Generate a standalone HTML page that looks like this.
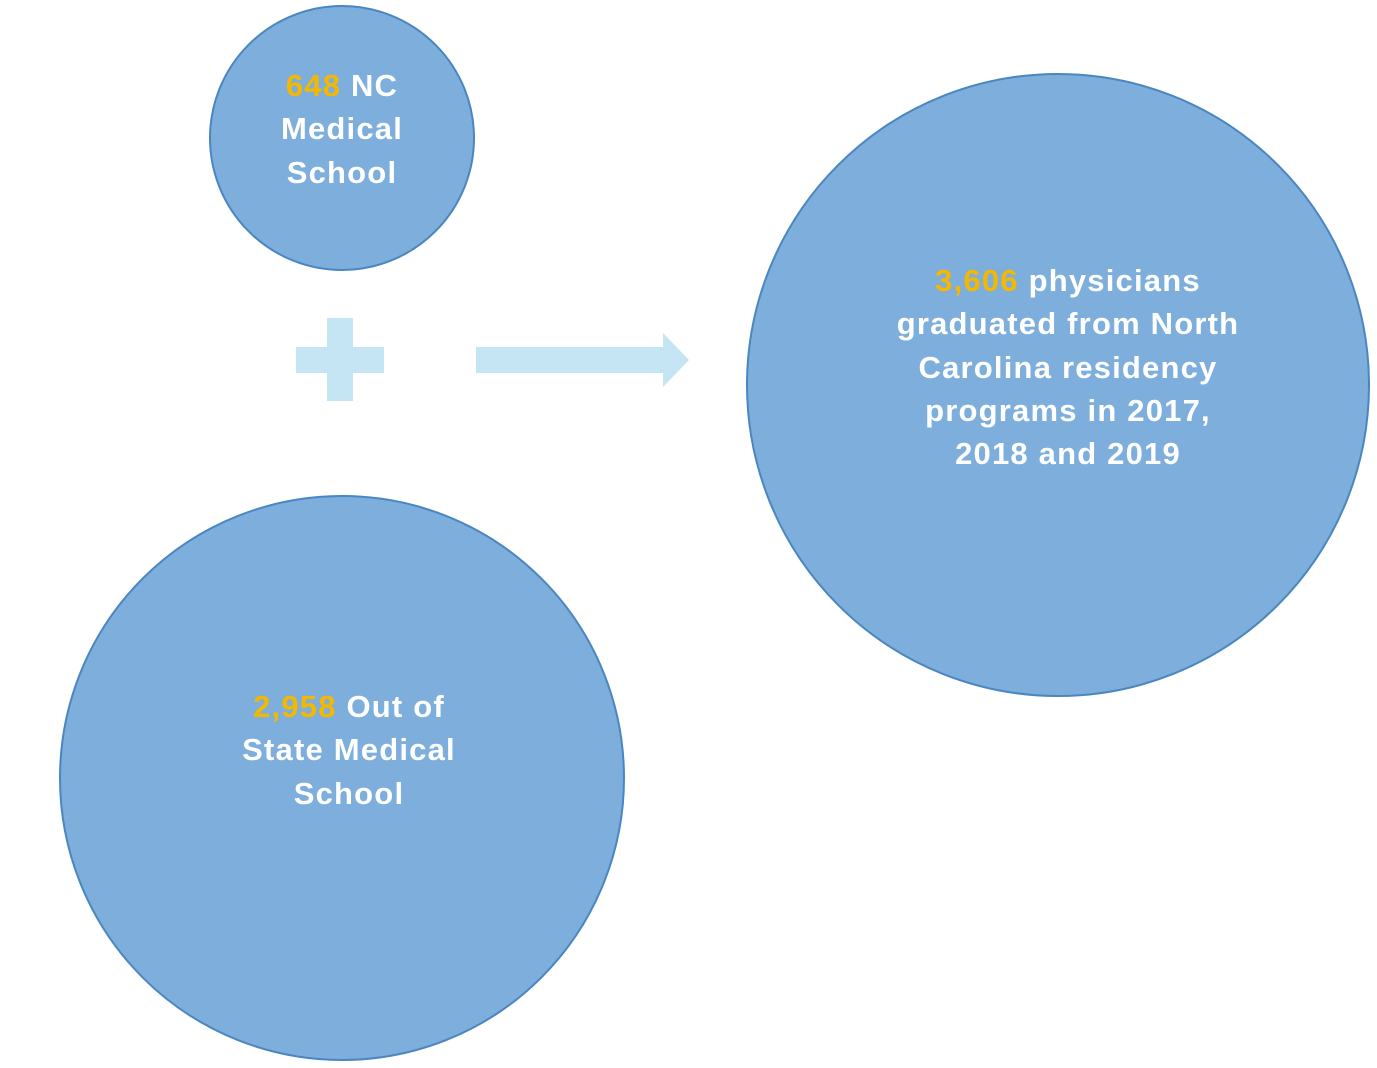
<!DOCTYPE html>
<html><head><style>
html,body{margin:0;padding:0;background:#fff;}
body{width:1377px;height:1068px;position:relative;overflow:hidden;font-family:"Liberation Sans",sans-serif;}
.c{position:absolute;border-radius:50%;background:#7DAEDC;border:2.5px solid #4A86C0;box-sizing:border-box;}
.t{position:absolute;color:#fff;font-weight:bold;font-size:31px;letter-spacing:1.2px;line-height:43.3px;text-align:center;white-space:nowrap;}
.g{color:#F5B800;}
.b{position:absolute;background:#C5E5F5;}
</style></head><body>
<div class="c" style="left:209px;top:5px;width:266px;height:266px"></div>
<div class="c" style="left:59px;top:495px;width:566px;height:566px"></div>
<div class="c" style="left:746px;top:73px;width:624px;height:624px"></div>
<div class="b" style="left:327px;top:318px;width:26px;height:83px"></div>
<div class="b" style="left:296px;top:347px;width:88px;height:26px"></div>
<div class="b" style="left:476px;top:347px;width:188px;height:26px"></div>
<svg style="position:absolute;left:0;top:0" width="1377" height="1068"><polygon points="663,333 689,360 663,387" fill="#C5E5F5"/></svg>
<div class="t" style="left:192px;top:64px;width:300px">
<span class="g">648</span> NC<br>Medical<br>School</div>
<div class="t" style="left:180px;top:685px;width:338px">
<span class="g">2,958</span> Out of<br>State Medical<br>School</div>
<div class="t" style="left:828px;top:259px;width:480px">
<span class="g">3,606</span> physicians<br>graduated from North<br>Carolina residency<br>programs in 2017,<br>2018 and 2019</div>
</body></html>
